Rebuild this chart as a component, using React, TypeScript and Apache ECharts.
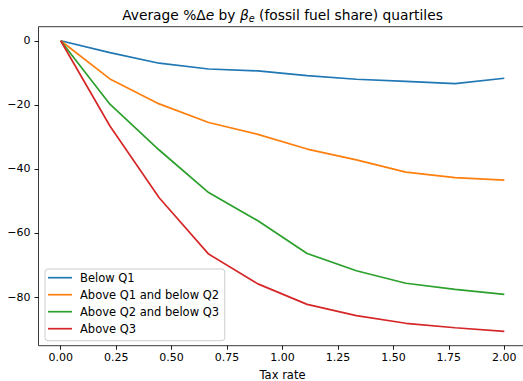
import React, { useEffect, useRef } from "react";
import * as echarts from "echarts";

const taxRates = [0, 0.222, 0.444, 0.667, 0.889, 1.111, 1.333, 1.556, 1.778, 2.0];
const belowQ1 = [0, -3.7, -7.0, -8.8, -9.4, -10.9, -12.0, -12.7, -13.4, -11.7];
const q1q2 = [0, -11.9, -19.7, -25.5, -29.2, -33.8, -37.2, -41.0, -42.7, -43.5];
const q2q3 = [0, -19.8, -34.1, -47.4, -56.2, -66.4, -71.8, -75.7, -77.6, -79.2];
const aboveQ3 = [0, -26.6, -49.0, -66.6, -75.9, -82.3, -85.8, -88.2, -89.6, -90.7];
const seriesNames = ["Below Q1", "Above Q1 and below Q2", "Above Q2 and below Q3", "Above Q3"];
const colors = ["#1f77b4", "#ff7f0e", "#2ca02c", "#d62728"];
const xTicks = [0, 0.25, 0.5, 0.75, 1.0, 1.25, 1.5, 1.75, 2.0];
const yTicks = [0, -20, -40, -60, -80];

const FONT = "DejaVu Sans";

export default function App() {
  const ref = useRef<HTMLDivElement>(null);
  useEffect(() => {
    if (!ref.current) return;
    const chart = echarts.init(ref.current, null, { renderer: "svg" });
    const allData = [belowQ1, q1q2, q2q3, aboveQ3];
    const fmtNum = (v: number, d: number) => {
      const s = Math.abs(v).toFixed(d);
      return v < 0 ? "\u2212" + s : s;
    };
    chart.setOption({
      animation: false,
      textStyle: { fontFamily: FONT },
      grid: {
        left: 38.5,
        top: 26.7,
        width: 488,
        height: 319,
        containLabel: false,
        outerBoundsMode: "none",
        show: true,
        borderColor: "#222",
        borderWidth: 0.9,
        backgroundColor: "transparent",
      },
      graphic: [
        {
          type: "text",
          x: 282.5,
          y: 15,
          style: {
            text: "Average %Δ{i|e} by {i|β}{s|e} (fossil fuel share) quartiles",
            fontFamily: FONT,
            fontSize: 13.8,
            fill: "#000",
            align: "center",
            verticalAlign: "middle",
            lineHeight: 16,
            rich: {
              i: { fontFamily: FONT, fontStyle: "italic", fontSize: 13.8, fill: "#000", lineHeight: 16 },
              s: { fontFamily: FONT, fontStyle: "italic", fontSize: 9.7, fill: "#000", lineHeight: 16, verticalAlign: "bottom", padding: [5, 0, 0, 0] },
            },
          },
        },
      ],
      legend: {
        orient: "vertical",
        left: 45,
        top: 269,
        icon: "rect",
        itemWidth: 24,
        itemHeight: 1.7,
        itemGap: 4,
        padding: [2.2, 5.7, 5.5, 3],
        backgroundColor: "rgba(255,255,255,0.8)",
        borderColor: "#cccccc",
        borderWidth: 1,
        borderRadius: 3,
        textStyle: { fontFamily: FONT, fontSize: 11.5, color: "#000", lineHeight: 13, padding: [0, 0, 0, 3] },
        data: seriesNames,
      },
      xAxis: {
        type: "value",
        min: -0.1,
        max: 2.1,
        name: "Tax rate",
        nameLocation: "middle",
        nameGap: 23,
        nameTextStyle: { fontFamily: FONT, fontSize: 11.5, color: "#000", verticalAlign: "top" },
        axisLine: { show: false, onZero: false },
        axisTick: { show: true, length: 4, lineStyle: { color: "#000", width: 0.9 }, customValues: xTicks },
        axisLabel: {
          fontFamily: FONT,
          fontSize: 11,
          color: "#000",
          margin: 6,
          customValues: xTicks,
          formatter: (v: number) => fmtNum(v, 2),
        },
        splitLine: { show: false },
      },
      yAxis: {
        type: "value",
        min: -95.2,
        max: 4.4,
        axisLine: { show: false, onZero: false },
        axisTick: { show: true, length: 4, lineStyle: { color: "#000", width: 0.9 }, customValues: yTicks },
        axisLabel: {
          fontFamily: FONT,
          fontSize: 11,
          color: "#000",
          margin: 8,
          customValues: yTicks,
          formatter: (v: number) => fmtNum(v, 0),
        },
        splitLine: { show: false },
      },
      series: allData.map((d, k) => ({
        name: seriesNames[k],
        type: "line",
        data: d.map((y, i) => [taxRates[i], y]),
        symbol: "none",
        showSymbol: false,
        color: colors[k],
        lineStyle: { color: colors[k], width: 1.7 },
        itemStyle: { color: colors[k] },
        z: 2 + k,
      })),
    });
    return () => chart.dispose();
  }, []);
  return <div ref={ref} style={{ width: 523, height: 381, position: "absolute", left: 0, top: 0 }} />;
}
